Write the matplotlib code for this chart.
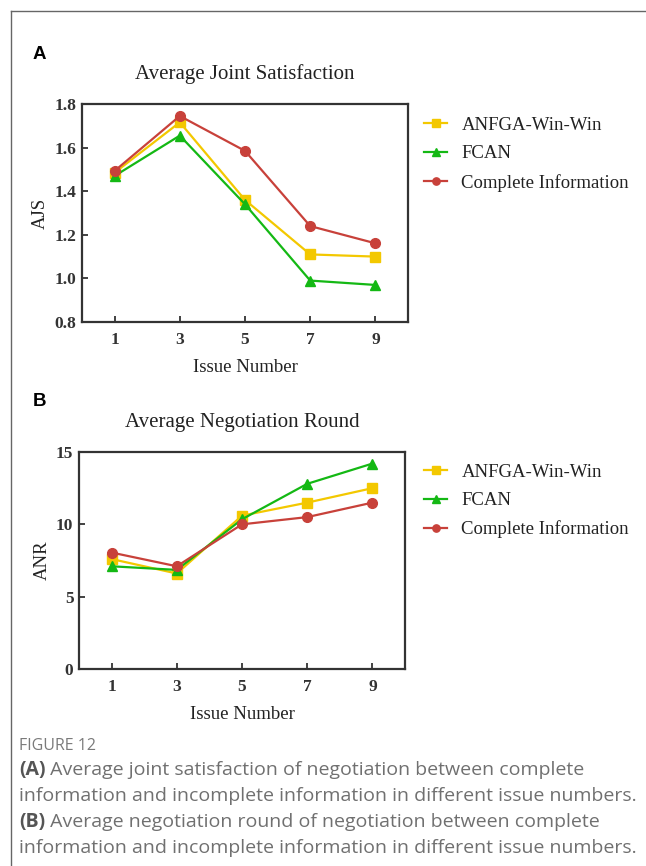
import matplotlib
matplotlib.use("Agg")
import matplotlib.pyplot as plt
from matplotlib.lines import Line2D

# data
issues = [1, 3, 5, 7, 9]
series_names = ["ANFGA-Win-Win", "FCAN", "Complete Information"]
ajs_anfga = [1.485, 1.716, 1.36, 1.11, 1.10]
ajs_fcan = [1.47, 1.655, 1.34, 0.99, 0.97]
ajs_complete = [1.493, 1.745, 1.585, 1.24, 1.161]
anr_anfga = [7.6, 6.6, 10.6, 11.5, 12.5]
anr_fcan = [7.1, 6.85, 10.35, 12.8, 14.2]
anr_complete = [8.05, 7.1, 10.0, 10.5, 11.5]

colors = ["#f3c800", "#14b814", "#c8413a"]
markers = ["s", "^", "o"]

W, H = 646, 866
fig = plt.figure(figsize=(W / 100, H / 100), dpi=100)

serif = ["Liberation Serif", "DejaVu Serif"]
spine_col = "#333333"


def px_axes(left, top, right, bottom):
    return fig.add_axes([left / W, 1 - bottom / H, (right - left) / W, (bottom - top) / H])


def draw_panel(ax, values, title, ylabel, ylim, yticks, yfmt, legend_y):
    for vals, name, c, m in zip(values, series_names, colors, markers):
        ax.plot(issues, vals, color=c, marker=m, markersize=7, linewidth=1.6,
                label=name, zorder=3)
    ax.set_xlim(0, 10)
    ax.set_ylim(*ylim)
    ax.set_xticks(issues)
    ax.set_yticks(yticks)
    ax.set_yticklabels([yfmt.format(v) for v in yticks])
    for lab in ax.get_xticklabels() + ax.get_yticklabels():
        lab.set_fontfamily(serif)
        lab.set_fontweight("bold")
        lab.set_fontsize(12.5)
        lab.set_color("#333333")
    ax.tick_params(direction="in", length=4, width=1.3, color=spine_col, pad=4)
    ax.tick_params(axis="x", pad=7)
    for s in ax.spines.values():
        s.set_color(spine_col)
        s.set_linewidth(1.6)
    ax.set_title(title, family=serif, fontsize=15, color="#222222", pad=18)
    ax.set_xlabel("Issue Number", family=serif, fontsize=13.5, color="#222222", labelpad=8)
    ax.set_ylabel(ylabel, family=serif, fontsize=13.5, color="#222222", labelpad=4)
    leg = ax.legend(loc="upper left", bbox_to_anchor=(407 / W, 1 - legend_y / H),
                    bbox_transform=fig.transFigure, frameon=False,
                    prop={"family": serif, "size": 13.5}, handlelength=1.25,
                    handletextpad=0.75, labelspacing=0.6, markerscale=0.75)
    for t in leg.get_texts():
        t.set_color("#222222")


ax_a = px_axes(82, 104, 408, 322)
draw_panel(ax_a, [ajs_anfga, ajs_fcan, ajs_complete], "Average Joint Satisfaction", "AJS",
           (0.8, 1.8), [0.8, 1.0, 1.2, 1.4, 1.6, 1.8], "{:.1f}", 100)

ax_b = px_axes(79, 452, 405, 669)
draw_panel(ax_b, [anr_anfga, anr_fcan, anr_complete], "Average Negotiation Round", "ANR",
           (0, 15), [0, 5, 10, 15], "{:.0f}", 447)

# panel letters
fig.text(33 / W, 1 - 54.5 / H, "A", family=["Liberation Sans", "DejaVu Sans"], fontweight="bold",
         fontsize=13.5, va="center", ha="left")
fig.text(33 / W, 1 - 401 / H, "B", family=["Liberation Sans", "DejaVu Sans"], fontweight="bold",
         fontsize=13.5, va="center", ha="left")

# frame lines (top and left)
fig.add_artist(Line2D([11 / W, 1], [1 - 11 / H, 1 - 11 / H], transform=fig.transFigure,
                      color="#666666", linewidth=1.0))
fig.add_artist(Line2D([11 / W, 11 / W], [1 - 11 / H, 0], transform=fig.transFigure,
                      color="#666666", linewidth=1.0))

# caption
cap_font = ["Open Sans", "DejaVu Sans"]
cap_col = "#707070"
fig.text(19 / W, 1 - 746 / H, "FIGURE 12", family=cap_font, fontsize=11.5, color="#7a7a7a",
         va="center")
lines = [
    ("(A)", " Average joint satisfaction of negotiation between complete"),
    (None, "information and incomplete information in different issue numbers."),
    ("(B)", " Average negotiation round of negotiation between complete"),
    (None, "information and incomplete information in different issue numbers."),
]
y0 = 770
for i, (lead, rest) in enumerate(lines):
    y = 1 - (y0 + i * 26) / H
    x = 19 / W
    if lead:
        t = fig.text(x, y, lead, family=cap_font, fontsize=14, fontweight="bold",
                     color="#555555", va="center")
        fig.canvas.draw()
        bb = t.get_window_extent()
        x = bb.x1 / W
    fig.text(x, y, rest, family=cap_font, fontsize=14, color=cap_col, va="center")

fig.savefig("out.png", dpi=100)
